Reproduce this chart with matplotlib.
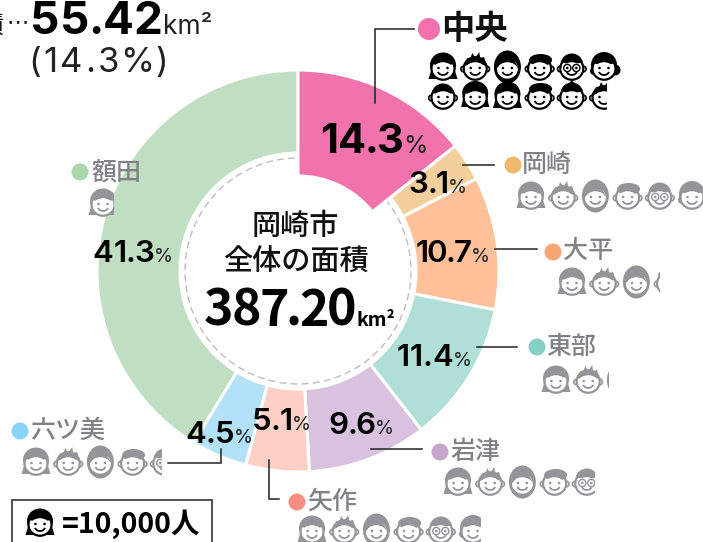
import matplotlib
matplotlib.use('Agg')
import matplotlib.pyplot as plt
from matplotlib.font_manager import FontProperties
from matplotlib.patches import Wedge, Circle, Ellipse, Polygon, Arc, Rectangle
from matplotlib.textpath import TextPath

JP = 'Noto Sans CJK JP'
NUM = 'Inter'

districts = ['中央', '岡崎', '大平', '東部', '岩津', '矢作', '六ツ美', '額田']
shares = [14.3, 3.1, 10.7, 11.4, 9.6, 5.1, 4.5, 41.3]
population = [11.6, 6.0, 3.2, 2.1, 4.8, 5.8, 4.4, 0.9]
wedge_colors = ['#F272AC', '#F2CF9B', '#FEC199', '#B0DFD8', '#D9C2E0', '#FED0C5', '#B2E1F8', '#C0DEC1']
dot_colors = ['#F272AC', '#EDB96E', '#F7A872', '#84D0C9', '#C9A5CF', '#F98F82', '#87D4F7', '#A8D8A8']

CX, CY = 298, 271
R_OUT, R_IN, R_PINK = 201, 118, 95
GREY = '#939598'
LABEL_GREY = '#808285'
INK = '#111111'
PITCH = 32.2
FACE_W = 14

fig = plt.figure(figsize=(7.03, 5.42), dpi=100)
ax = fig.add_axes([0, 0, 1, 1])
ax.set_xlim(0, 703)
ax.set_ylim(542, 0)
ax.axis('off')


def tracked(x0, x1, base_y, s, size, weight='semibold', family=NUM, color='black'):
    # the numbers in the original are set tighter than any font here, so
    # place the glyphs one by one to fill x0..x1
    prop = FontProperties(family=family, weight=weight)
    widths = []
    for ch in s:
        box = TextPath((0, 0), ch, size=size, prop=prop).get_extents()
        widths.append(box.width * 100 / 72)
    gap = (x1 - x0 - sum(widths)) / (len(s) - 1)
    x = x0
    for ch, w in zip(s, widths):
        ax.text(x + w / 2, base_y, ch, ha='center', va='baseline', fontsize=size, fontweight=weight,
                family=family, color=color, zorder=10)
        x += w + gap


def draw_face(cx, cy, kind, color, clip_x=None):
    parts = []
    s = dict(fc=color, ec='none', zorder=5)
    # hair behind the head
    if kind == 'bob':
        parts.append(Polygon([(cx - 9, cy - 6), (cx - 14.5, cy + 12), (cx + 14.5, cy + 12), (cx + 9, cy - 6)], **s))
        parts.append(Ellipse((cx, cy - 2), 26, 25, **s))
    elif kind == 'long':
        parts.append(Ellipse((cx, cy), 27, 33, **s))
    elif kind == 'curly':
        parts.append(Circle((cx, cy - 2), 13, **s))
        parts.append(Circle((cx + 11, cy + 3), 5.5, **s))
        parts.append(Circle((cx - 10, cy + 4), 4, **s))
    elif kind == 'bangs':
        parts.append(Polygon([(cx - 10, cy - 6), (cx - 14, cy + 11), (cx + 14, cy + 11), (cx + 10, cy - 6)], **s))
        parts.append(Ellipse((cx, cy - 3), 26, 24, **s))
    # ears and head
    if kind in ('spiky', 'short', 'glasses', 'side', 'knot', 'crown'):
        parts.append(Circle((cx - 11.5, cy + 2), 2.8, fc='white', ec=color, lw=1.2, zorder=5.5))
        parts.append(Circle((cx + 11.5, cy + 2), 2.8, fc='white', ec=color, lw=1.2, zorder=5.5))
    parts.append(Ellipse((cx, cy + 1.5), 23, 22.5, fc='white', ec=color, lw=1.6, zorder=6))
    # hair in front
    cap = Wedge((cx, cy - 1), 11.5, 190, 350, fc=color, ec='none', zorder=7)
    if kind == 'bob' or kind == 'bangs':
        parts.append(cap)
    elif kind == 'long':
        parts.append(Polygon([(cx - 11, cy + 1), (cx - 9, cy - 10), (cx + 4, cy - 12), (cx + 11, cy + 1), (cx + 5, cy - 4)],
                             fc=color, ec='none', zorder=7))
    elif kind == 'spiky' or kind == 'crown':
        parts.append(Polygon([(cx - 11, cy - 1), (cx - 8, cy - 9), (cx - 5, cy - 8), (cx - 3, cy - 14), (cx, cy - 9),
                              (cx + 4, cy - 15), (cx + 5, cy - 9), (cx + 9, cy - 10), (cx + 11, cy - 1), (cx, cy - 4)],
                             fc=color, ec='none', zorder=7))
    elif kind == 'short':
        parts.append(Ellipse((cx + 1, cy - 7), 23, 12, fc=color, ec='none', zorder=7))
    elif kind == 'glasses':
        parts.append(Wedge((cx, cy - 2), 11.5, 195, 345, fc=color, ec='none', zorder=7))
    elif kind == 'curly':
        parts.append(Wedge((cx, cy - 1), 11.5, 195, 345, fc=color, ec='none', zorder=7))
    elif kind == 'side':
        parts.append(cap)
    elif kind == 'knot':
        parts.append(Wedge((cx, cy - 2), 11.5, 195, 345, fc=color, ec='none', zorder=7))
        parts.append(Polygon([(cx - 5, cy - 10), (cx, cy - 16), (cx + 5, cy - 10)], fc=color, ec='none', zorder=7))
    # bare face over the cap
    parts.append(Ellipse((cx, cy + 3), 20, 15.5, fc='white', ec='none', zorder=8))
    # eyes and mouth
    parts.append(Circle((cx - 4.5, cy + 1), 1.3, fc=color, ec='none', zorder=9))
    parts.append(Circle((cx + 4.5, cy + 1), 1.3, fc=color, ec='none', zorder=9))
    parts.append(Arc((cx, cy + 4), 10, 8, theta1=10, theta2=170, ec=color, lw=1.3, zorder=9))
    if kind == 'glasses':
        parts.append(Circle((cx - 4.5, cy + 1), 3.6, fc='none', ec=color, lw=1.0, zorder=9))
        parts.append(Circle((cx + 4.5, cy + 1), 3.6, fc='none', ec=color, lw=1.0, zorder=9))
    for p in parts:
        ax.add_patch(p)
        if clip_x is not None:
            p.set_clip_path(Rectangle((cx - 40, cy - 40), clip_x - cx + 40, 80, transform=ax.transData))


def face_row(first_x, y, count, kinds, color):
    # count is people in 10,000s, the fraction cuts the last face
    n = int(count)
    if count > n:
        n += 1
    for i in range(n):
        x = first_x + i * PITCH
        clip = None
        if i == n - 1 and count < n:
            clip = x - FACE_W + (count - i) * (2 * FACE_W)
        draw_face(x, y, kinds[i % len(kinds)], color, clip)


def pct(x0, x1, base_y, num, size=22.5, weight='semibold', psize=14):
    tracked(x0, x1, base_y, num, size, weight=weight)
    ax.text(x1 + 1, base_y, '%', ha='left', va='baseline', fontsize=psize, family=NUM, color='#222222', zorder=10)


# donut, pink one goes on top with its deeper inner radius
ax.add_patch(Circle((CX, CY), 113, fc='white', ec='#BDBDBD', lw=1.0, ls=(0, (5, 3)), zorder=1))
cum = 0
for i, sh in enumerate(shares):
    t1 = -90 + cum * 3.6
    t2 = -90 + (cum + sh) * 3.6
    rin = R_PINK if i == 0 else R_IN
    ax.add_patch(Wedge((CX, CY), R_OUT, t1, t2, width=R_OUT - rin, fc=wedge_colors[i], ec='white', lw=2.2,
                       zorder=3 if i == 0 else 2))
    cum += sh

# percent labels
pct(322, 402, 153, '14.3', size=30, weight='bold', psize=18)
pct(410, 447, 193, '3.1')
pct(417, 470, 262, '10.7')
pct(398, 452, 366, '11.4')
pct(330, 374, 434, '9.6')
pct(254, 291, 430, '5.1')
pct(187, 233, 443, '4.5')
pct(94, 153, 262, '41.3')

# leader lines
leaders = [
    ([375, 375, 414], [103, 29, 29]),
    ([463, 494], [165, 165]),
    ([495, 537], [249, 249]),
    ([477, 517], [347, 347]),
    ([371, 422], [449, 449]),
    ([269, 269, 279], [460, 499, 499]),
    ([168, 221, 221], [463, 463, 449]),
]
for xs, ys in leaders:
    ax.plot(xs, ys, color='#222222', lw=1.1, zorder=10, solid_joinstyle='miter')

# district labels and dots
dot_xy = [(429, 29), (513, 165), (553, 252), (537, 347), (440, 452), (297, 502), (20, 431), (80, 172)]
text_xy = [(441, 30), (522, 165), (563, 251), (546, 347), (450, 452), (307, 502), (30, 431), (91, 172)]
for i, name in enumerate(districts):
    r = 11 if i == 0 else 8.5
    ax.add_patch(Circle(dot_xy[i], r, fc=dot_colors[i], ec='none', zorder=4))
    ax.text(text_xy[i][0], text_xy[i][1], name, ha='left', va='center', family=JP,
            fontsize=24 if i == 0 else 18, fontweight='bold' if i == 0 else 'medium',
            color=INK if i == 0 else LABEL_GREY, zorder=10)

# faces, one per 10,000 people
grey_kinds = ['bob', 'spiky', 'long', 'short', 'glasses', 'curly']
black_row2 = ['side', 'bangs', 'bob', 'short', 'knot', 'crown']
face_row(443, 67, 6, grey_kinds, 'black')
face_row(443, 96, population[0] - 6, black_row2, 'black')
face_row(531, 196, population[1], grey_kinds, GREY)
face_row(572, 282, population[2], grey_kinds, GREY)
face_row(556, 380, population[3], grey_kinds, GREY)
face_row(458, 482, population[4], grey_kinds, GREY)
face_row(312, 530, population[5], grey_kinds, GREY)
face_row(36, 462, population[6], grey_kinds, GREY)
face_row(103, 203, population[7], grey_kinds, GREY)

# centre text
ax.text(CX - 3, 226, '岡崎市', ha='center', va='center', family=JP, fontsize=21, fontweight='medium', color=INK)
ax.text(CX - 2, 262, '全体の面積', ha='center', va='center', family=JP, fontsize=21, fontweight='medium', color=INK)
tracked(206, 354, 326, '387.20', 36, weight='bold', family=JP)
ax.text(357, 326, 'km²', ha='left', va='baseline', family=JP, fontsize=14, fontweight='bold', color='black')

# top left callout, cropped by the picture edge
ax.text(3, 33, '積', ha='right', va='baseline', family=JP, fontsize=18, color=INK)
ax.text(6, 28, '⋯', ha='left', va='baseline', family='DejaVu Sans', fontsize=16, color=INK)
tracked(33, 160, 34, '55.42', 33, weight='bold')
ax.text(163, 34, 'km²', ha='left', va='baseline', family=NUM, fontsize=19, color='#222222')
tracked(31, 165, 72, '(14.3%)', 25, weight='normal', color='#222222')

# legend box
ax.add_patch(Rectangle((12, 500), 200, 50, fc='white', ec='#333333', lw=1.2, zorder=4))
draw_face(40, 523, 'bob', 'black')
ax.text(62, 524, '=10,000人', ha='left', va='center', family=JP, fontsize=20.5, fontweight='bold', color='black', zorder=10)

plt.savefig('out.png', dpi=100)
plt.close()
